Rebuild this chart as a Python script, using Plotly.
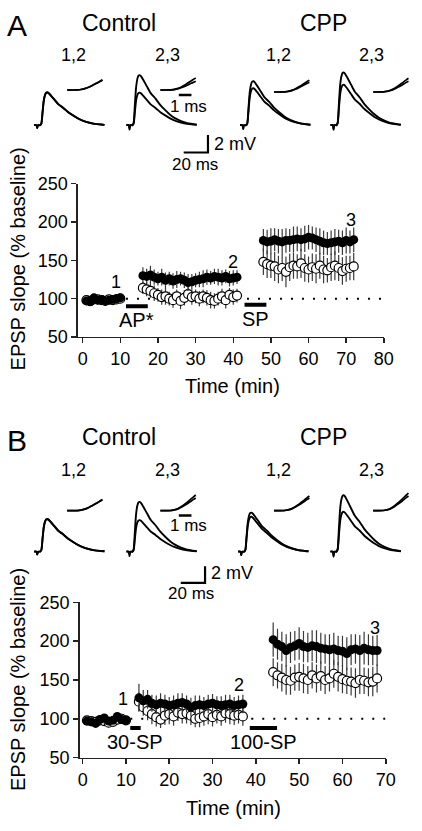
import plotly.graph_objects as go

W, H = 422, 831
FONT = "Liberation Sans, Arial, sans-serif"

# ---------------- data : panel A ----------------
tA_base = list(range(1, 11))
tA_p1 = list(range(16, 42))
tA_p2 = list(range(48, 73))
A_filled_base = [97, 96, 101, 98, 99, 97, 98, 99, 100, 101]
A_open_base = [98, 97, 99, 99, 98, 97, 99, 98, 99, 100]
A_filled_p1 = [130, 129, 131, 128, 126, 128, 124, 126, 123, 125, 126, 124, 121,
               122, 124, 125, 126, 128, 127, 129, 128, 127, 129, 126, 127, 128]
A_open_p1 = [114, 112, 110, 107, 105, 102, 103, 100, 98, 103, 97, 101, 106,
             102, 103, 100, 103, 101, 98, 97, 100, 103, 98, 105, 102, 104]
A_filled_p2 = [176, 174, 175, 177, 175, 174, 176, 176, 177, 178, 177, 178, 180,
               179, 177, 175, 173, 172, 173, 174, 175, 173, 176, 174, 177]
A_open_p2 = [148, 145, 143, 142, 138, 140, 135, 141, 143, 142, 146, 140, 138,
             141, 139, 143, 138, 137, 141, 143, 140, 136, 139, 140, 142]
A_filled_err_base = [3, 3, 3, 2, 3, 3, 2, 3, 3, 3]
A_open_err_base = [3, 3, 2, 3, 3, 2, 3, 3, 2, 3]
A_filled_err_p1 = [11, 10, 12, 10, 9, 11, 10, 9, 10, 11, 9, 10, 11,
                   10, 9, 10, 11, 10, 9, 10, 11, 10, 9, 10, 10, 9]
A_open_err_p1 = [8, 9, 9, 10, 9, 10, 11, 9, 10, 9, 11, 10, 9,
                 10, 9, 10, 9, 10, 11, 10, 9, 10, 11, 9, 10, 9]
A_filled_err_p2 = [15, 16, 17, 15, 16, 17, 16, 15, 17, 16, 15, 17, 16,
                   15, 16, 17, 16, 15, 16, 17, 15, 16, 17, 15, 16]
A_open_err_p2 = [17, 18, 16, 19, 18, 17, 20, 18, 17, 16, 19, 18, 17,
                 18, 19, 17, 18, 16, 18, 19, 17, 18, 17, 16, 18]
A_bars = [("AP*", 11.5, 17.3, 90), ("SP", 43.0, 48.8, 92)]
A_labels = [("1", 8.8, 122), ("2", 39.8, 148), ("3", 71.3, 203)]

# ---------------- data : panel B ----------------
tB_base = list(range(1, 11))
tB_p1 = list(range(13, 38))
tB_p2 = list(range(44, 69))
B_filled_base = [97, 96, 94, 99, 101, 97, 98, 103, 99, 98]
B_open_base = [98, 97, 96, 98, 97, 95, 96, 99, 100, 98]
B_filled_p1 = [127, 123, 125, 120, 118, 120, 119, 117, 118, 120, 121, 119, 115,
               117, 118, 117, 119, 120, 118, 117, 118, 119, 117, 118, 119]
B_open_p1 = [122, 115, 110, 106, 102, 99, 104, 106, 103, 108, 106, 107, 104,
             100, 101, 103, 106, 102, 105, 103, 107, 106, 104, 105, 103]
B_filled_p2 = [202, 196, 193, 188, 192, 194, 197, 193, 192, 194, 193, 191, 190,
               189, 190, 188, 187, 184, 189, 190, 188, 191, 189, 188, 188]
B_open_p2 = [160, 156, 153, 150, 149, 153, 154, 152, 150, 156, 152, 155, 150,
             152, 158, 154, 151, 149, 148, 146, 150, 149, 147, 148, 152]
B_filled_err_base = [3, 3, 4, 3, 3, 3, 4, 3, 3, 3]
B_open_err_base = [3, 3, 3, 3, 4, 3, 3, 3, 3, 3]
B_filled_err_p1 = [18, 14, 12, 11, 12, 13, 12, 11, 12, 13, 12, 11, 12,
                   13, 12, 11, 12, 12, 11, 12, 13, 12, 11, 12, 12]
B_open_err_p1 = [12, 11, 12, 13, 12, 11, 12, 13, 12, 11, 12, 13, 12,
                 11, 12, 12, 13, 12, 11, 12, 12, 13, 12, 11, 12]
B_filled_err_p2 = [22, 20, 19, 21, 20, 19, 21, 20, 19, 20, 21, 20, 19,
                   20, 21, 19, 20, 21, 20, 19, 20, 21, 20, 19, 20]
B_open_err_p2 = [18, 17, 18, 19, 18, 17, 18, 19, 18, 17, 18, 19, 18,
                 17, 18, 19, 18, 17, 18, 19, 18, 17, 18, 19, 18]
B_bars = [("30-SP", 11.0, 13.4, 88), ("100-SP", 38.6, 44.9, 88)]
B_labels = [("1", 9.4, 125), ("2", 36.2, 144), ("3", 67.4, 217)]

BASELINE = 100
A_dot_range = [11.5, 80]
B_dot_range = [11.0, 70]

# ---------------- EPSP trace data (ms, normalized) ----------------
trace_t = [0, 2, 2.6, 3.2, 5, 6, 7, 8, 9, 10, 11, 12, 14, 17, 20, 24, 28,
           32, 36, 40, 45, 50, 55, 58]
trace_shape = [0, 0, -0.09, 0, 0, 0.05, 0.4, 0.75, 0.92, 0.99, 1.0, 0.98,
               0.9, 0.77, 0.64, 0.53, 0.4, 0.3, 0.21, 0.14, 0.08, 0.04, 0.02, 0.01]
inset_t = [0, 0.4, 0.8, 1.1, 1.4, 1.7, 2.0, 2.3, 2.6, 2.8]
inset_shape = [0, 0, 0.01, 0.05, 0.14, 0.28, 0.46, 0.66, 0.87, 1.0]
# peak amplitudes (mV) of the two superimposed traces in each group
A_trace_amps = [(3.7, 3.75), (5.7, 3.7), (5.0, 4.2), (6.0, 4.6)]
B_trace_amps = [(3.9, 3.95), (6.0, 3.8), (4.7, 4.2), (6.8, 4.8)]
# inset rise amplitudes (expanded scale, mV)
A_inset_amps = [(0.50, 0.52), (0.62, 0.45), (0.60, 0.50), (0.70, 0.55)]
B_inset_amps = [(0.55, 0.57), (0.80, 0.65), (0.75, 0.65), (0.90, 0.75)]
group_labels = ["1,2", "2,3", "1,2", "2,3"]
SCALE_MS, SCALE_MV, INSET_MS = 20, 2, 1

# ---------------- layout geometry (pixels) ----------------
panels = [
    dict(letter="A", top=0, trace_x=[33, 128, 245, 338], base_y=118, mv_px=9.0,
         inset_x=[67, 163, 280, 382], inset_y=[82, 82, 84, 84],
         scalebar=(187, 146), msbar=(182, 87), mvtext=(216, 137), mstext=(199, 158),
         onems_text=(192, 99),
         main_x=(78, 393), main_y=(178, 335), xrange=[-1.3, 80], xt=(237, 385),
         ytitle=(16, 255)),
    dict(letter="B", top=425, trace_x=[33, 128, 243, 338], base_y=555, mv_px=8.5,
         inset_x=[67, 163, 280, 382], inset_y=[513, 513, 513, 513],
         scalebar=(184, 587), msbar=(182, 518), mvtext=(213, 577), mstext=(195, 598),
         onems_text=(192, 528),
         main_x=(80, 395), main_y=(607, 766), xrange=[-0.67, 70], xt=(238, 818),
         ytitle=(17, 686)),
]
MS_PX = 1.25
INSET_MS_PX = 13.0
INSET_MV_PX = 20.0

fig = go.Figure()
layout_axes = {}
counter = [0]


def new_axes(xd, yd, xr, yr, **extra):
    counter[0] += 1
    i = counter[0]
    s = "" if i == 1 else str(i)
    xa = dict(domain=xd, range=xr, visible=False, fixedrange=True, anchor="y" + s)
    ya = dict(domain=yd, range=yr, visible=False, fixedrange=True, anchor="x" + s)
    xa.update(extra.get("x", {}))
    ya.update(extra.get("y", {}))
    layout_axes["xaxis" + s] = xa
    layout_axes["yaxis" + s] = ya
    return "x" + s, "y" + s


def xdom(px0, scale, r):
    return [max(0, (px0 + r[0] * scale) / W), min(1, (px0 + r[1] * scale) / W)]


def ydom(py0, scale, r):
    return [max(0, 1 - (py0 - r[0] * scale) / H), min(1, 1 - (py0 - r[1] * scale) / H)]


def P(px, py):
    return px / W, 1 - py / H


annotations = []


def text(s, px, py, size, xanchor="center", angle=0):
    x, y = P(px, py)
    annotations.append(dict(text=s, x=x, y=y, xref="paper", yref="paper",
                            xanchor=xanchor, yanchor="middle", showarrow=False,
                            textangle=angle, font=dict(family=FONT, size=size, color="black")))


datasets = [
    dict(tb=tA_base, t1=tA_p1, t2=tA_p2,
         fb=A_filled_base, f1=A_filled_p1, f2=A_filled_p2,
         ob=A_open_base, o1=A_open_p1, o2=A_open_p2,
         feb=A_filled_err_base, fe1=A_filled_err_p1, fe2=A_filled_err_p2,
         oeb=A_open_err_base, oe1=A_open_err_p1, oe2=A_open_err_p2,
         bars=A_bars, labels=A_labels, dots=A_dot_range,
         amps=A_trace_amps, iamps=A_inset_amps),
    dict(tb=tB_base, t1=tB_p1, t2=tB_p2,
         fb=B_filled_base, f1=B_filled_p1, f2=B_filled_p2,
         ob=B_open_base, o1=B_open_p1, o2=B_open_p2,
         feb=B_filled_err_base, fe1=B_filled_err_p1, fe2=B_filled_err_p2,
         oeb=B_open_err_base, oe1=B_open_err_p1, oe2=B_open_err_p2,
         bars=B_bars, labels=B_labels, dots=B_dot_range,
         amps=B_trace_amps, iamps=B_inset_amps),
]

for pn, d in zip(panels, datasets):
    top = pn["top"]
    # header texts
    text(pn["letter"], 15, top + 16, 30)
    text("Control", 120, top + 13, 23)
    text("CPP", 331, top + 13, 23)
    for gx, lab in zip([74, 170, 285, 380], group_labels):
        text(lab, gx, top + 46, 18)

    # EPSP traces
    tr_xr, tr_yr = [-2, 60], [-1.2, 7.5]
    for k in range(4):
        xa, ya = new_axes(xdom(pn["trace_x"][k], MS_PX, tr_xr),
                          ydom(pn["base_y"], pn["mv_px"], tr_yr), tr_xr, tr_yr)
        for amp in d["amps"][k]:
            fig.add_trace(go.Scatter(x=trace_t, y=[amp * v for v in trace_shape],
                                     mode="lines", line=dict(color="black", width=1.9, shape="spline", smoothing=0.6),
                                     xaxis=xa, yaxis=ya, hoverinfo="skip", showlegend=False))
        # inset
        in_xr, in_yr = [-0.2, 3.0], [-0.3, 1.2]
        xa, ya = new_axes(xdom(pn["inset_x"][k], INSET_MS_PX, in_xr),
                          ydom(pn["inset_y"][k], INSET_MV_PX, in_yr), in_xr, in_yr)
        for amp in d["iamps"][k]:
            fig.add_trace(go.Scatter(x=inset_t, y=[amp * v for v in inset_shape],
                                     mode="lines", line=dict(color="black", width=1.7, shape="spline"),
                                     xaxis=xa, yaxis=ya, hoverinfo="skip", showlegend=False))

    # 1 ms scale bar
    sb_xr, sb_yr = [-0.5, 1.5], [-1, 1]
    mx, my = pn["msbar"]
    xa, ya = new_axes(xdom(mx, INSET_MS_PX, sb_xr), ydom(my, 5, sb_yr), sb_xr, sb_yr)
    fig.add_trace(go.Scatter(x=[0, INSET_MS], y=[0, 0], mode="lines",
                             line=dict(color="black", width=2.5),
                             xaxis=xa, yaxis=ya, hoverinfo="skip", showlegend=False))
    text("1 ms", pn["onems_text"][0], pn["onems_text"][1], 17)

    # 20 ms / 2 mV scale bar
    sx, sy = pn["scalebar"]
    s_xr, s_yr = [-3, 23], [-0.3, 2.3]
    xa, ya = new_axes(xdom(sx, MS_PX, s_xr), ydom(sy, pn["mv_px"], s_yr), s_xr, s_yr)
    fig.add_trace(go.Scatter(x=[0, SCALE_MS, SCALE_MS], y=[0, 0, SCALE_MV], mode="lines",
                             line=dict(color="black", width=2.2),
                             xaxis=xa, yaxis=ya, hoverinfo="skip", showlegend=False))
    text("2 mV", pn["mvtext"][0], pn["mvtext"][1], 18, xanchor="left")
    text("20 ms", pn["mstext"][0], pn["mstext"][1], 17)

    # main time-course plot
    x0, x1 = pn["main_x"]
    y0, y1 = pn["main_y"]
    axstyle = dict(visible=True, showline=True, linecolor="#222", linewidth=1.5,
                   ticks="outside", ticklen=5, tickwidth=1.5, tickcolor="#222",
                   showgrid=False, zeroline=False,
                   tickfont=dict(family=FONT, size=18, color="black"))
    xa, ya = new_axes([x0 / W, x1 / W], [1 - y1 / H, 1 - y0 / H], pn["xrange"], [50, 250],
                      x=dict(axstyle, tick0=0, dtick=10),
                      y=dict(axstyle, tick0=50, dtick=50))
    # baseline dotted line
    fig.add_trace(go.Scatter(x=d["dots"], y=[BASELINE, BASELINE], mode="lines",
                             line=dict(color="black", width=2, dash="2px,9px"),
                             xaxis=xa, yaxis=ya, hoverinfo="skip", showlegend=False))
    # stimulation bars
    for lab, b0, b1, by in d["bars"]:
        fig.add_trace(go.Scatter(x=[b0, b1], y=[by, by], mode="lines",
                                 line=dict(color="black", width=4),
                                 xaxis=xa, yaxis=ya, hoverinfo="skip", showlegend=False))
        annotations.append(dict(text=lab, x=(b0 + b1) / 2, y=by - 18, xref=xa, yref=ya,
                                showarrow=False, yanchor="middle",
                                font=dict(family=FONT, size=20, color="black")))
    t_all = d["tb"] + d["t1"] + d["t2"]
    open_y = d["ob"] + d["o1"] + d["o2"]
    open_e = d["oeb"] + d["oe1"] + d["oe2"]
    fill_y = d["fb"] + d["f1"] + d["f2"]
    fill_e = d["feb"] + d["fe1"] + d["fe2"]
    fig.add_trace(go.Scatter(x=t_all, y=open_y, mode="markers",
                             marker=dict(symbol="circle", size=9, color="white",
                                         line=dict(color="black", width=1.2)),
                             error_y=dict(type="data", array=open_e, color="#3a3a3a",
                                          thickness=1.2, width=0),
                             xaxis=xa, yaxis=ya, showlegend=False))
    fig.add_trace(go.Scatter(x=t_all, y=fill_y, mode="markers",
                             marker=dict(symbol="circle", size=9, color="black"),
                             error_y=dict(type="data", array=fill_e, color="#3a3a3a",
                                          thickness=1.2, width=0),
                             xaxis=xa, yaxis=ya, showlegend=False))
    for lab, lx, ly in d["labels"]:
        annotations.append(dict(text=lab, x=lx, y=ly, xref=xa, yref=ya, showarrow=False,
                                font=dict(family=FONT, size=18, color="black")))
    text("Time (min)", pn["xt"][0], pn["xt"][1], 20)
    text("EPSP slope (% baseline)", pn["ytitle"][0], pn["ytitle"][1], 20, angle=-90)

fig.update_layout(width=W, height=H, margin=dict(l=0, r=0, t=0, b=0),
                  paper_bgcolor="white", plot_bgcolor="rgba(0,0,0,0)",
                  showlegend=False, annotations=annotations,
                  font=dict(family=FONT, color="black"), **layout_axes)
fig.write_html("out.html", config={"displayModeBar": False, "staticPlot": True},
               post_script="document.body.style.margin='0';document.body.style.overflow='hidden';")
